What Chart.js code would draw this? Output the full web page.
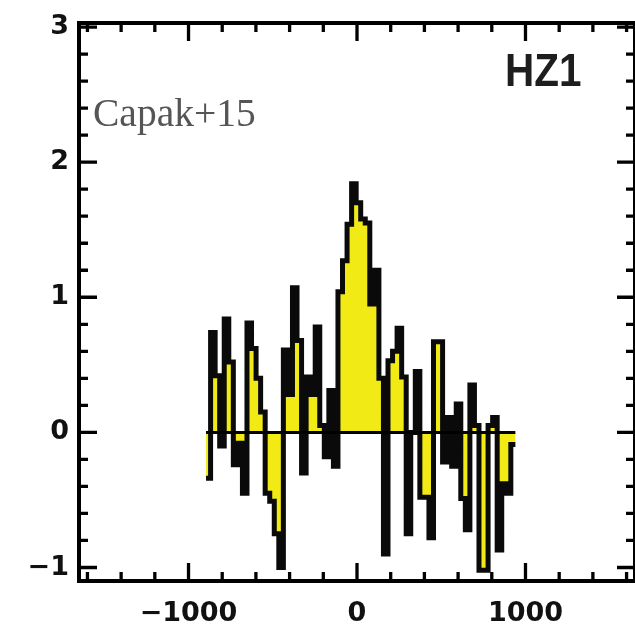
<!DOCTYPE html>
<html>
<head>
<meta charset="utf-8">
<script src="https://cdn.jsdelivr.net/npm/chart.js@4.4.0/dist/chart.umd.min.js"></script>
<style>
  html, body { margin: 0; padding: 0; background: #fff; }
  #wrap { width: 635px; height: 625px; }
</style>
</head>
<body>
<div id="wrap"><canvas id="spec"></canvas></div>
<script>
// HZ1 line profile: flux per velocity channel
var channelStart = -896;   // km/s, low edge of the first channel
var channelWidth = 27;     // km/s
var flux = [
  -0.34, 0.74, 0.42, -0.10, 0.84, 0.52, -0.24, -0.08, -0.45, 0.81,
   0.62, 0.40, 0.15, -0.45, -0.51, -0.75, -1.00, 0.61, 0.28, 1.07,
   0.68, -0.30, 0.41, 0.28, 0.78, 0.05, -0.18, 0.31, -0.25, 1.04,
   1.27, 1.54, 1.84, 1.70, 1.58, 1.55, 0.95, 1.20, 0.40, -0.90,
   0.53, 0.60, 0.77, 0.41, -0.75, 0.00, 0.45, -0.48, -0.48, -0.78,
   0.67, 0.67, -0.22, 0.11, -0.25, 0.21, -0.49, -0.72, 0.35, 0.05,
  -1.02, -1.02, 0.05, 0.11, -0.87, -0.38, -0.45, -0.09
];

var xLabels = [-1000, 0, 1000];
var yLabels = [-1, 0, 1, 2, 3];
var xRange = [-1650, 1650];
var yRange = [-1.1, 3.03];

var tickFont = { family: 'DejaVu Sans', size: 27, weight: 'bold' };

function minus(v) {
  return v < 0 ? '\u2212' + Math.abs(v) : String(v);
}

// channel edges -> step points (last edge repeats the last value)
var steps = [];
for (var i = 0; i < flux.length; i++) {
  steps.push({ x: channelStart + i * channelWidth, y: flux[i] });
}
var channelEnd = channelStart + flux.length * channelWidth;
steps.push({ x: channelEnd, y: flux[flux.length - 1] });

// box frame with inward ticks on all four sides
var frameTicks = {
  id: 'frameTicks',
  afterDatasetsDraw: function(chart) {
    var ctx = chart.ctx, a = chart.chartArea;
    var xs = chart.scales.x, ys = chart.scales.y;
    ctx.save();
    ctx.strokeStyle = '#000';
    ctx.lineCap = 'butt';
    ctx.lineWidth = 3.3;
    ctx.beginPath();
    for (var k = -8; k <= 8; k++) {
      var px = xs.getPixelForValue(k * 200);
      var len = (k % 5 === 0) ? 18 : 9;
      ctx.moveTo(px, a.bottom); ctx.lineTo(px, a.bottom - len);
      ctx.moveTo(px, a.top); ctx.lineTo(px, a.top + len);
    }
    for (var j = -5; j <= 15; j++) {
      var py = ys.getPixelForValue(j / 5);
      var len2 = (j % 5 === 0) ? 18 : 9;
      ctx.moveTo(a.left, py); ctx.lineTo(a.left + len2, py);
      ctx.moveTo(a.right, py); ctx.lineTo(a.right - len2, py);
    }
    ctx.stroke();
    ctx.lineWidth = 4;
    ctx.strokeRect(a.left, a.top, a.right - a.left, a.bottom - a.top);
    ctx.restore();
  },
  afterDraw: function(chart) {
    var ctx = chart.ctx, a = chart.chartArea;
    ctx.save();
    ctx.fillStyle = '#1e1e1e';
    ctx.font = 'bold 46px "Liberation Sans"';
    ctx.textBaseline = 'alphabetic';
    ctx.translate(a.left + 426, a.top + 63);
    ctx.scale(0.88, 1);
    ctx.fillText('HZ1', 0, 0);
    ctx.restore();

    ctx.save();
    ctx.fillStyle = '#555';
    ctx.font = '39.5px "Liberation Serif"';
    ctx.textBaseline = 'alphabetic';
    ctx.fillText('Capak+15', a.left + 14, a.top + 103);
    ctx.restore();
  }
};

new Chart(document.getElementById('spec'), {
  type: 'line',
  data: {
    datasets: [
      {
        data: [{ x: channelStart, y: 0 }, { x: channelEnd, y: 0 }],
        borderColor: '#000',
        borderWidth: 3,
        pointRadius: 0,
        fill: false,
        order: 0
      },
      {
        data: steps,
        stepped: true,
        borderColor: '#0a0a0a',
        borderWidth: 5,
        borderJoinStyle: 'miter',
        borderCapStyle: 'butt',
        backgroundColor: '#f2ea14',
        fill: 'origin',
        pointRadius: 0,
        order: 1
      }
    ]
  },
  plugins: [frameTicks],
  options: {
    responsive: true,
    maintainAspectRatio: false,
    animation: false,
    devicePixelRatio: 1,
    layout: { padding: { top: 23, right: 0, bottom: 0, left: 0 } },
    plugins: { legend: { display: false }, tooltip: { enabled: false } },
    scales: {
      x: {
        type: 'linear',
        min: xRange[0],
        max: xRange[1],
        afterBuildTicks: function(s) { s.ticks = xLabels.map(function(v) { return { value: v }; }); },
        afterFit: function(s) { s.height = 44; s.paddingLeft = 0; s.paddingRight = 0; },
        grid: { display: false },
        border: { display: false },
        ticks: {
          padding: 9,
          autoSkip: false,
          maxRotation: 0,
          color: '#111',
          font: tickFont,
          callback: minus
        }
      },
      y: {
        type: 'linear',
        min: yRange[0],
        max: yRange[1],
        afterBuildTicks: function(s) { s.ticks = yLabels.map(function(v) { return { value: v }; }); },
        afterFit: function(s) { s.width = 79; s.paddingTop = 0; s.paddingBottom = 0; },
        grid: { display: false },
        border: { display: false },
        ticks: {
          padding: 2,
          color: '#111',
          font: tickFont,
          callback: minus
        }
      }
    }
  }
});
</script>
</body>
</html>
